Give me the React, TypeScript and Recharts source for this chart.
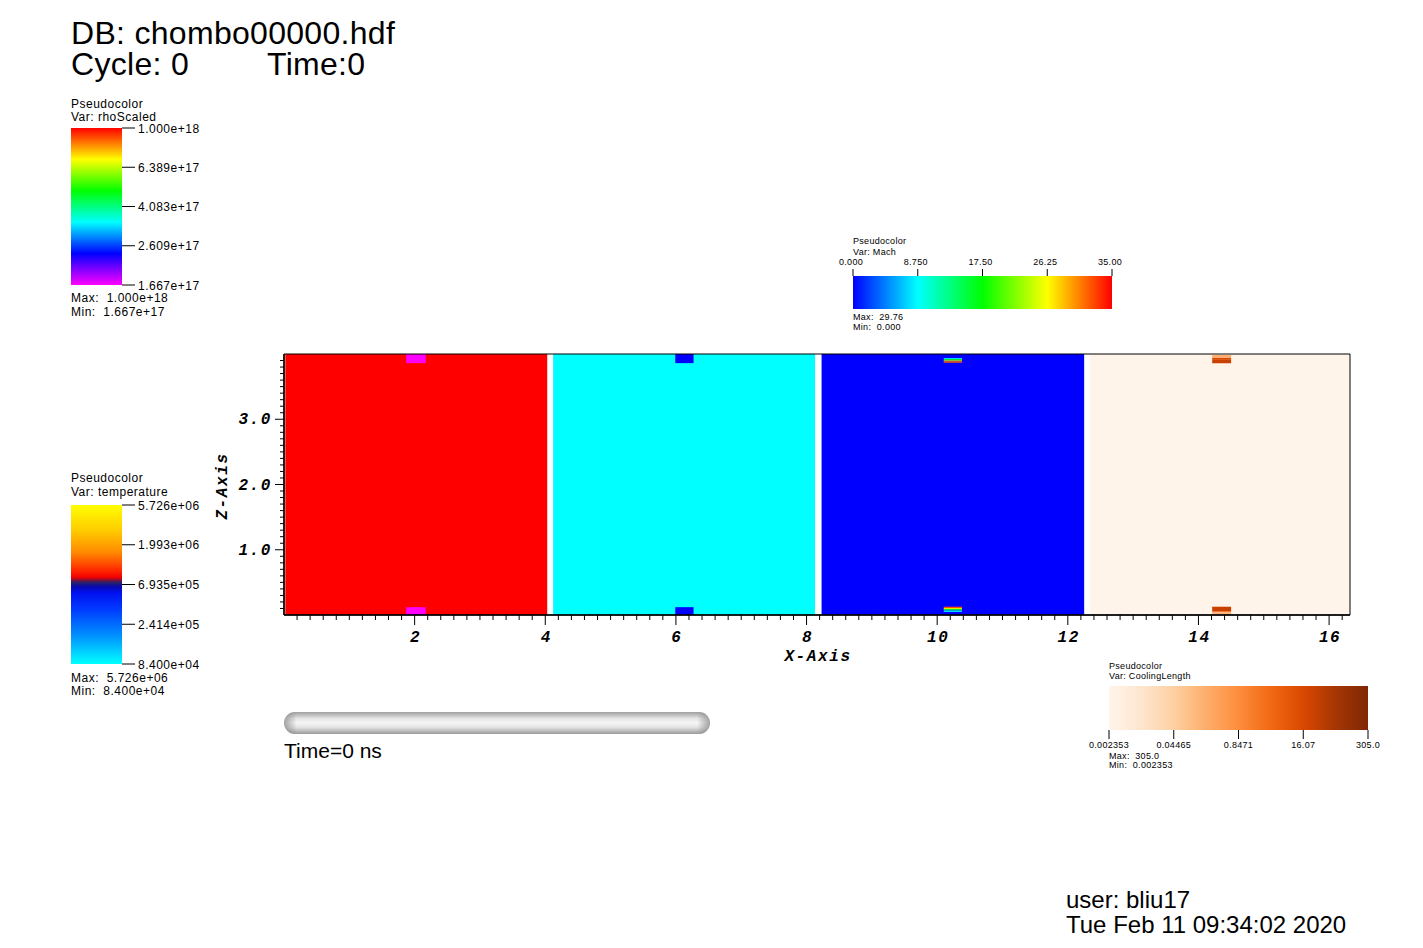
import React from 'react';
import { ComposedChart, XAxis, YAxis, ReferenceArea } from 'recharts';

// ---------------- main plot (X-Axis / Z-Axis) ----------------
const X_DOMAIN: [number, number] = [0, 16.32];
const Z_DOMAIN: [number, number] = [0, 4.0];

const xMajorTicks = [2, 4, 6, 8, 10, 12, 14, 16];
const xMajorLabels = ['2', '4', '6', '8', '10', '12', '14', '16'];
const zMajorTicks = [1, 2, 3];
const zMajorLabels = ['1.0', '2.0', '3.0'];
const X_MINOR_STEP = 0.2;
const Z_MINOR_STEP = 0.1;

// four panels placed side by side (rhoScaled, temperature, Mach, CoolingLength)
const blockStart = [0.02, 4.12, 8.23, 12.34];
const blockEnd = [4.03, 8.13, 12.25, 16.32];
const blockColor = ['#ff0000', '#00ffff', '#0000ff', '#fff4ea'];

// small features at the top and bottom boundaries of each panel
const patchStart = [1.87, 5.99, 10.1, 14.21];
const patchEnd = [2.17, 6.27, 10.38, 14.5];
const patchLayers = [
  [
    { z1: 3.86, z2: 4.0, c: '#ff00ff' },
    { z1: 0.0, z2: 0.12, c: '#ff00ff' },
  ],
  [
    { z1: 3.86, z2: 4.0, c: '#0000ff' },
    { z1: 0.0, z2: 0.12, c: '#0000ff' },
  ],
  [
    { z1: 3.923, z2: 3.939, c: '#00d8ff' },
    { z1: 3.903, z2: 3.923, c: '#10e030' },
    { z1: 3.887, z2: 3.903, c: '#d8f000' },
    { z1: 3.866, z2: 3.887, c: '#ff5000' },
    { z1: 0.107, z2: 0.127, c: '#ff5000' },
    { z1: 0.092, z2: 0.107, c: '#d8f000' },
    { z1: 0.069, z2: 0.092, c: '#10e030' },
    { z1: 0.046, z2: 0.069, c: '#00d8ff' },
  ],
  [
    { z1: 3.939, z2: 3.985, c: '#fdae70' },
    { z1: 3.91, z2: 3.939, c: '#d94801' },
    { z1: 3.858, z2: 3.91, c: '#c84100' },
    { z1: 0.061, z2: 0.127, c: '#c84100' },
    { z1: 0.041, z2: 0.061, c: '#ee7a30' },
    { z1: 0.0, z2: 0.041, c: '#fdb07a' },
  ],
];

// ---------------- colour legends ----------------
const rhoTickLabels = ['1.667e+17', '2.609e+17', '4.083e+17', '6.389e+17', '1.000e+18'];
const tempTickLabels = ['8.400e+04', '2.414e+05', '6.935e+05', '1.993e+06', '5.726e+06'];
const machTickLabels = ['0.000', '8.750', '17.50', '26.25', '35.00'];
const coolTickLabels = ['0.002353', '0.04465', '0.8471', '16.07', '305.0'];

const rainbowStops: [number, string][] = [
  [0, '#ff0000'], [0.2, '#ffff00'], [0.4, '#00ff00'], [0.6, '#00ffff'], [0.8, '#0000ff'], [1, '#ff00ff'],
];
const tempStops: [number, string][] = [
  [0, '#ffff00'], [0.16, '#ffcc00'], [0.3, '#ff8800'], [0.42, '#ff2000'], [0.455, '#f00000'],
  [0.47, '#901030'], [0.49, '#202070'], [0.515, '#0808b0'], [0.55, '#0010f0'], [0.65, '#0038ff'],
  [0.82, '#0090ff'], [1, '#00ffff'],
];
const machStops: [number, string][] = [
  [0, '#0000ff'], [0.25, '#00ffff'], [0.5, '#00ff00'], [0.75, '#ffff00'], [1, '#ff0000'],
];
const coolStops: [number, string][] = [
  [0, '#fff5eb'], [0.125, '#fee6ce'], [0.25, '#fdd0a2'], [0.375, '#fdae6b'], [0.5, '#fd8d3c'],
  [0.625, '#f16913'], [0.75, '#d94801'], [0.875, '#a63603'], [1, '#7f2704'],
];

const SANS = '"Liberation Sans", Arial, sans-serif';
const axisFont: React.CSSProperties = {
  fontFamily: '"Liberation Mono", "Courier New", monospace',
  fontWeight: 'bold',
  fontStyle: 'italic',
  fontSize: 16,
  letterSpacing: 1.6,
  fill: '#000',
};

const near = (a: number, b: number) => Math.abs(a - b) < 1e-6;

const xMinorTicks: number[] = [];
for (let i = 1; i * X_MINOR_STEP < X_DOMAIN[1]; i++) {
  const v = +(i * X_MINOR_STEP).toFixed(2);
  if (!xMajorTicks.some((t) => near(t, v))) xMinorTicks.push(v);
}
const zMinorTicks: number[] = [];
for (let i = 1; i * Z_MINOR_STEP < Z_DOMAIN[1] - 1e-6; i++) {
  const v = +(i * Z_MINOR_STEP).toFixed(2);
  if (!zMajorTicks.some((t) => near(t, v))) zMinorTicks.push(v);
}
const xAllTicks = [...xMinorTicks, ...xMajorTicks].sort((a, b) => a - b);
const zAllTicks = [...zMinorTicks, ...zMajorTicks].sort((a, b) => a - b);

const XTick = (p: any) => {
  const { x, y, payload } = p;
  const idx = xMajorTicks.findIndex((t) => near(t, payload.value));
  const major = idx >= 0;
  return (
    <g>
      <line x1={x} x2={x} y1={y} y2={y + (major ? 10 : 5)} stroke="#000" strokeWidth={1} />
      {major && (
        <text x={x + 1} y={y + 27} textAnchor="middle" style={axisFont}>
          {xMajorLabels[idx]}
        </text>
      )}
    </g>
  );
};

const ZTick = (p: any) => {
  const { x, y, payload } = p;
  const idx = zMajorTicks.findIndex((t) => near(t, payload.value));
  const major = idx >= 0;
  return (
    <g>
      <line x1={x} x2={x - (major ? 9 : 4)} y1={y} y2={y} stroke="#000" strokeWidth={1} />
      {major && (
        <text x={x - 12} y={y + 5} textAnchor="end" style={axisFont}>
          {zMajorLabels[idx]}
        </text>
      )}
    </g>
  );
};

const legendText = (size: number): React.CSSProperties => ({
  fontFamily: SANS,
  fontSize: size,
  letterSpacing: size > 10 ? 0.5 : 0.3,
  fill: '#000',
  whiteSpace: 'pre',
});

function Gradient({ id, stops, vertical }: { id: string; stops: [number, string][]; vertical: boolean }) {
  return (
    <defs>
      <linearGradient id={id} x1="0" y1="0" x2={vertical ? '0' : '1'} y2={vertical ? '1' : '0'}>
        {stops.map(([o, c]) => (
          <stop key={o} offset={o} stopColor={c} />
        ))}
      </linearGradient>
    </defs>
  );
}

function VColorBar({ left, top, width, height, id, stops, labels }: any) {
  const n = labels.length;
  const ticks = labels.map((_: string, i: number) => i);
  const Tick = (p: any) => {
    const { x, y, payload } = p;
    return (
      <g>
        <line x1={x} x2={x + 13} y1={y} y2={y} stroke="#000" strokeWidth={1} />
        <text x={x + 16} y={y + 4.5} style={legendText(12)}>
          {labels[payload.value]}
        </text>
      </g>
    );
  };
  return (
    <div style={{ position: 'absolute', left, top: top - 10 }}>
      <ComposedChart width={width + 110} height={height + 20} margin={{ top: 10, bottom: 10, left: 0, right: 0 }}>
        <Gradient id={id} stops={stops} vertical />
        <XAxis type="number" dataKey="x" domain={[0, 1]} hide allowDataOverflow />
        <YAxis
          type="number"
          dataKey="y"
          orientation="right"
          domain={[0, n - 1]}
          ticks={ticks}
          interval={0}
          width={110}
          tickSize={0}
          tickMargin={0}
          axisLine={false}
          tickLine={false}
          tick={Tick}
          allowDataOverflow
        />
        <ReferenceArea x1={0} x2={1} y1={0} y2={n - 1} fill={`url(#${id})`} fillOpacity={1} stroke="none" ifOverflow="visible" />
      </ComposedChart>
    </div>
  );
}

function HColorBar({ left, top, width, height, id, stops, labels, side }: any) {
  const n = labels.length;
  const ticks = labels.map((_: string, i: number) => i);
  const AXH = 25;
  const Tick = (p: any) => {
    const { x, y, payload } = p;
    if (side === 'top') {
      return (
        <g>
          <line x1={x} x2={x} y1={y} y2={y - 7} stroke="#000" strokeWidth={1} />
          <text x={x - 2} y={y - 11} textAnchor="middle" style={legendText(9)}>
            {labels[payload.value]}
          </text>
        </g>
      );
    }
    return (
      <g>
        <line x1={x} x2={x} y1={y} y2={y + 9} stroke="#000" strokeWidth={1} />
        <text x={x} y={y + 18} textAnchor="middle" style={legendText(9)}>
          {labels[payload.value]}
        </text>
      </g>
    );
  };
  return (
    <div style={{ position: 'absolute', left: left - 30, top: side === 'top' ? top - AXH : top }}>
      <ComposedChart width={width + 60} height={height + AXH} margin={{ top: 0, bottom: 0, left: 30, right: 30 }}>
        <Gradient id={id} stops={stops} vertical={false} />
        <XAxis
          type="number"
          dataKey="x"
          orientation={side}
          domain={[0, n - 1]}
          ticks={ticks}
          interval={0}
          height={AXH}
          tickSize={0}
          tickMargin={0}
          axisLine={false}
          tickLine={false}
          tick={Tick}
          allowDataOverflow
        />
        <YAxis type="number" dataKey="y" domain={[0, 1]} hide allowDataOverflow />
        <ReferenceArea x1={0} x2={n - 1} y1={0} y2={1} fill={`url(#${id})`} fillOpacity={1} stroke="none" ifOverflow="visible" />
      </ComposedChart>
    </div>
  );
}

export default function App() {
  const PLOT_LEFT = 284;
  const PLOT_RIGHT = 1350;
  const PLOT_TOP = 354;
  const PLOT_BOTTOM = 615;
  const YW = 60;
  const XH = 60;
  return (
    <div style={{ position: 'absolute', left: 0, top: 0, width: 1423, height: 948, background: '#fff', overflow: 'hidden' }}>
      {/* free text, time slider */}
      <svg width={1423} height={948} style={{ position: 'absolute', left: 0, top: 0 }}>
        <defs>
          <linearGradient id="sliderV" x1="0" y1="0" x2="0" y2="1">
            <stop offset="0" stopColor="#a0a0a0" />
            <stop offset="0.3" stopColor="#e6e6e6" />
            <stop offset="0.5" stopColor="#f6f6f6" />
            <stop offset="0.7" stopColor="#e2e2e2" />
            <stop offset="1" stopColor="#9a9a9a" />
          </linearGradient>
          <linearGradient id="sliderH" x1="0" y1="0" x2="1" y2="0">
            <stop offset="0" stopColor="#808080" stopOpacity={0.7} />
            <stop offset="0.03" stopColor="#808080" stopOpacity={0} />
            <stop offset="0.97" stopColor="#808080" stopOpacity={0} />
            <stop offset="1" stopColor="#808080" stopOpacity={0.7} />
          </linearGradient>
        </defs>
        <text x={71} y={43.5} style={{ fontFamily: SANS, fontSize: 32, letterSpacing: 0.3 }}>DB: chombo00000.hdf</text>
        <text x={71} y={75} style={{ fontFamily: SANS, fontSize: 32, letterSpacing: 0.3 }}>Cycle: 0</text>
        <text x={267} y={75} style={{ fontFamily: SANS, fontSize: 32, letterSpacing: 0.3 }}>Time:0</text>

        <text x={71} y={107.5} style={legendText(12)}>Pseudocolor</text>
        <text x={71} y={120.5} style={legendText(12)}>Var: rhoScaled</text>
        <text x={71} y={302} style={legendText(12)}>Max:  1.000e+18</text>
        <text x={71} y={315.5} style={legendText(12)}>Min:  1.667e+17</text>

        <text x={71} y={482} style={legendText(12)}>Pseudocolor</text>
        <text x={71} y={495.5} style={legendText(12)}>Var: temperature</text>
        <text x={71} y={681.5} style={legendText(12)}>Max:  5.726e+06</text>
        <text x={71} y={694.5} style={legendText(12)}>Min:  8.400e+04</text>

        <text x={853} y={244} style={legendText(9)}>Pseudocolor</text>
        <text x={853} y={254.5} style={legendText(9)}>Var: Mach</text>
        <text x={853} y={319.5} style={legendText(9)}>Max:  29.76</text>
        <text x={853} y={329.5} style={legendText(9)}>Min:  0.000</text>

        <text x={1109} y={668.5} style={legendText(9)}>Pseudocolor</text>
        <text x={1109} y={679} style={legendText(9)}>Var: CoolingLength</text>
        <text x={1109} y={759} style={legendText(9)}>Max:  305.0</text>
        <text x={1109} y={768} style={legendText(9)}>Min:  0.002353</text>

        <rect x={284} y={712} width={426} height={22} rx={11} ry={11} fill="url(#sliderV)" />
        <rect x={284} y={712} width={426} height={22} rx={11} ry={11} fill="url(#sliderH)" />
        <text x={284} y={758} style={{ fontFamily: SANS, fontSize: 21 }}>Time=0 ns</text>

        <text x={1066} y={908} style={{ fontFamily: SANS, fontSize: 24 }}>user: bliu17</text>
        <text x={1066} y={933} style={{ fontFamily: SANS, fontSize: 24 }}>Tue Feb 11 09:34:02 2020</text>

        <text x={818} y={661} textAnchor="middle" style={axisFont}>X-Axis</text>
        <text transform="translate(227,486) rotate(-90)" textAnchor="middle" style={axisFont}>Z-Axis</text>
      </svg>

      {/* main plot */}
      <div style={{ position: 'absolute', left: 0, top: 0 }}>
        <ComposedChart
          width={1423}
          height={948}
          margin={{ top: PLOT_TOP, right: 1423 - PLOT_RIGHT, left: PLOT_LEFT - YW, bottom: 948 - PLOT_BOTTOM - XH }}
        >
          <XAxis
            type="number"
            dataKey="x"
            domain={X_DOMAIN}
            ticks={xAllTicks}
            interval={0}
            height={XH}
            tickSize={0}
            tickMargin={0}
            tickLine={false}
            axisLine={{ stroke: '#000', strokeWidth: 1.5 }}
            tick={XTick}
            allowDataOverflow
          />
          <YAxis
            type="number"
            dataKey="z"
            domain={Z_DOMAIN}
            ticks={zAllTicks}
            interval={0}
            width={YW}
            tickSize={0}
            tickMargin={0}
            tickLine={false}
            axisLine={{ stroke: '#000', strokeWidth: 1.5 }}
            tick={ZTick}
            allowDataOverflow
          />
          {blockStart.map((x1, i) => (
            <ReferenceArea
              key={'b' + i}
              x1={x1}
              x2={blockEnd[i]}
              y1={Z_DOMAIN[0]}
              y2={Z_DOMAIN[1]}
              fill={blockColor[i]}
              fillOpacity={1}
              stroke="none"
              ifOverflow="visible"
            />
          ))}
          {patchLayers.map((layers, i) =>
            layers.map((l, j) => (
              <ReferenceArea
                key={'p' + i + '-' + j}
                x1={patchStart[i]}
                x2={patchEnd[i]}
                y1={l.z1}
                y2={l.z2}
                fill={l.c}
                fillOpacity={1}
                stroke="none"
                ifOverflow="visible"
              />
            ))
          )}
          <ReferenceArea
            x1={X_DOMAIN[0]}
            x2={X_DOMAIN[1]}
            y1={Z_DOMAIN[0]}
            y2={Z_DOMAIN[1]}
            fill="none"
            fillOpacity={0}
            stroke="#000"
            strokeWidth={1}
            ifOverflow="visible"
          />
        </ComposedChart>
      </div>

      <VColorBar left={71} top={128} width={51} height={157} id="gRho" stops={rainbowStops} labels={rhoTickLabels} />
      <VColorBar left={71} top={505} width={51} height={159} id="gTemp" stops={tempStops} labels={tempTickLabels} />
      <HColorBar left={853} top={276} width={259} height={33} id="gMach" stops={machStops} labels={machTickLabels} side="top" />
      <HColorBar left={1109} top={686} width={259} height={44} id="gCool" stops={coolStops} labels={coolTickLabels} side="bottom" />
    </div>
  );
}
